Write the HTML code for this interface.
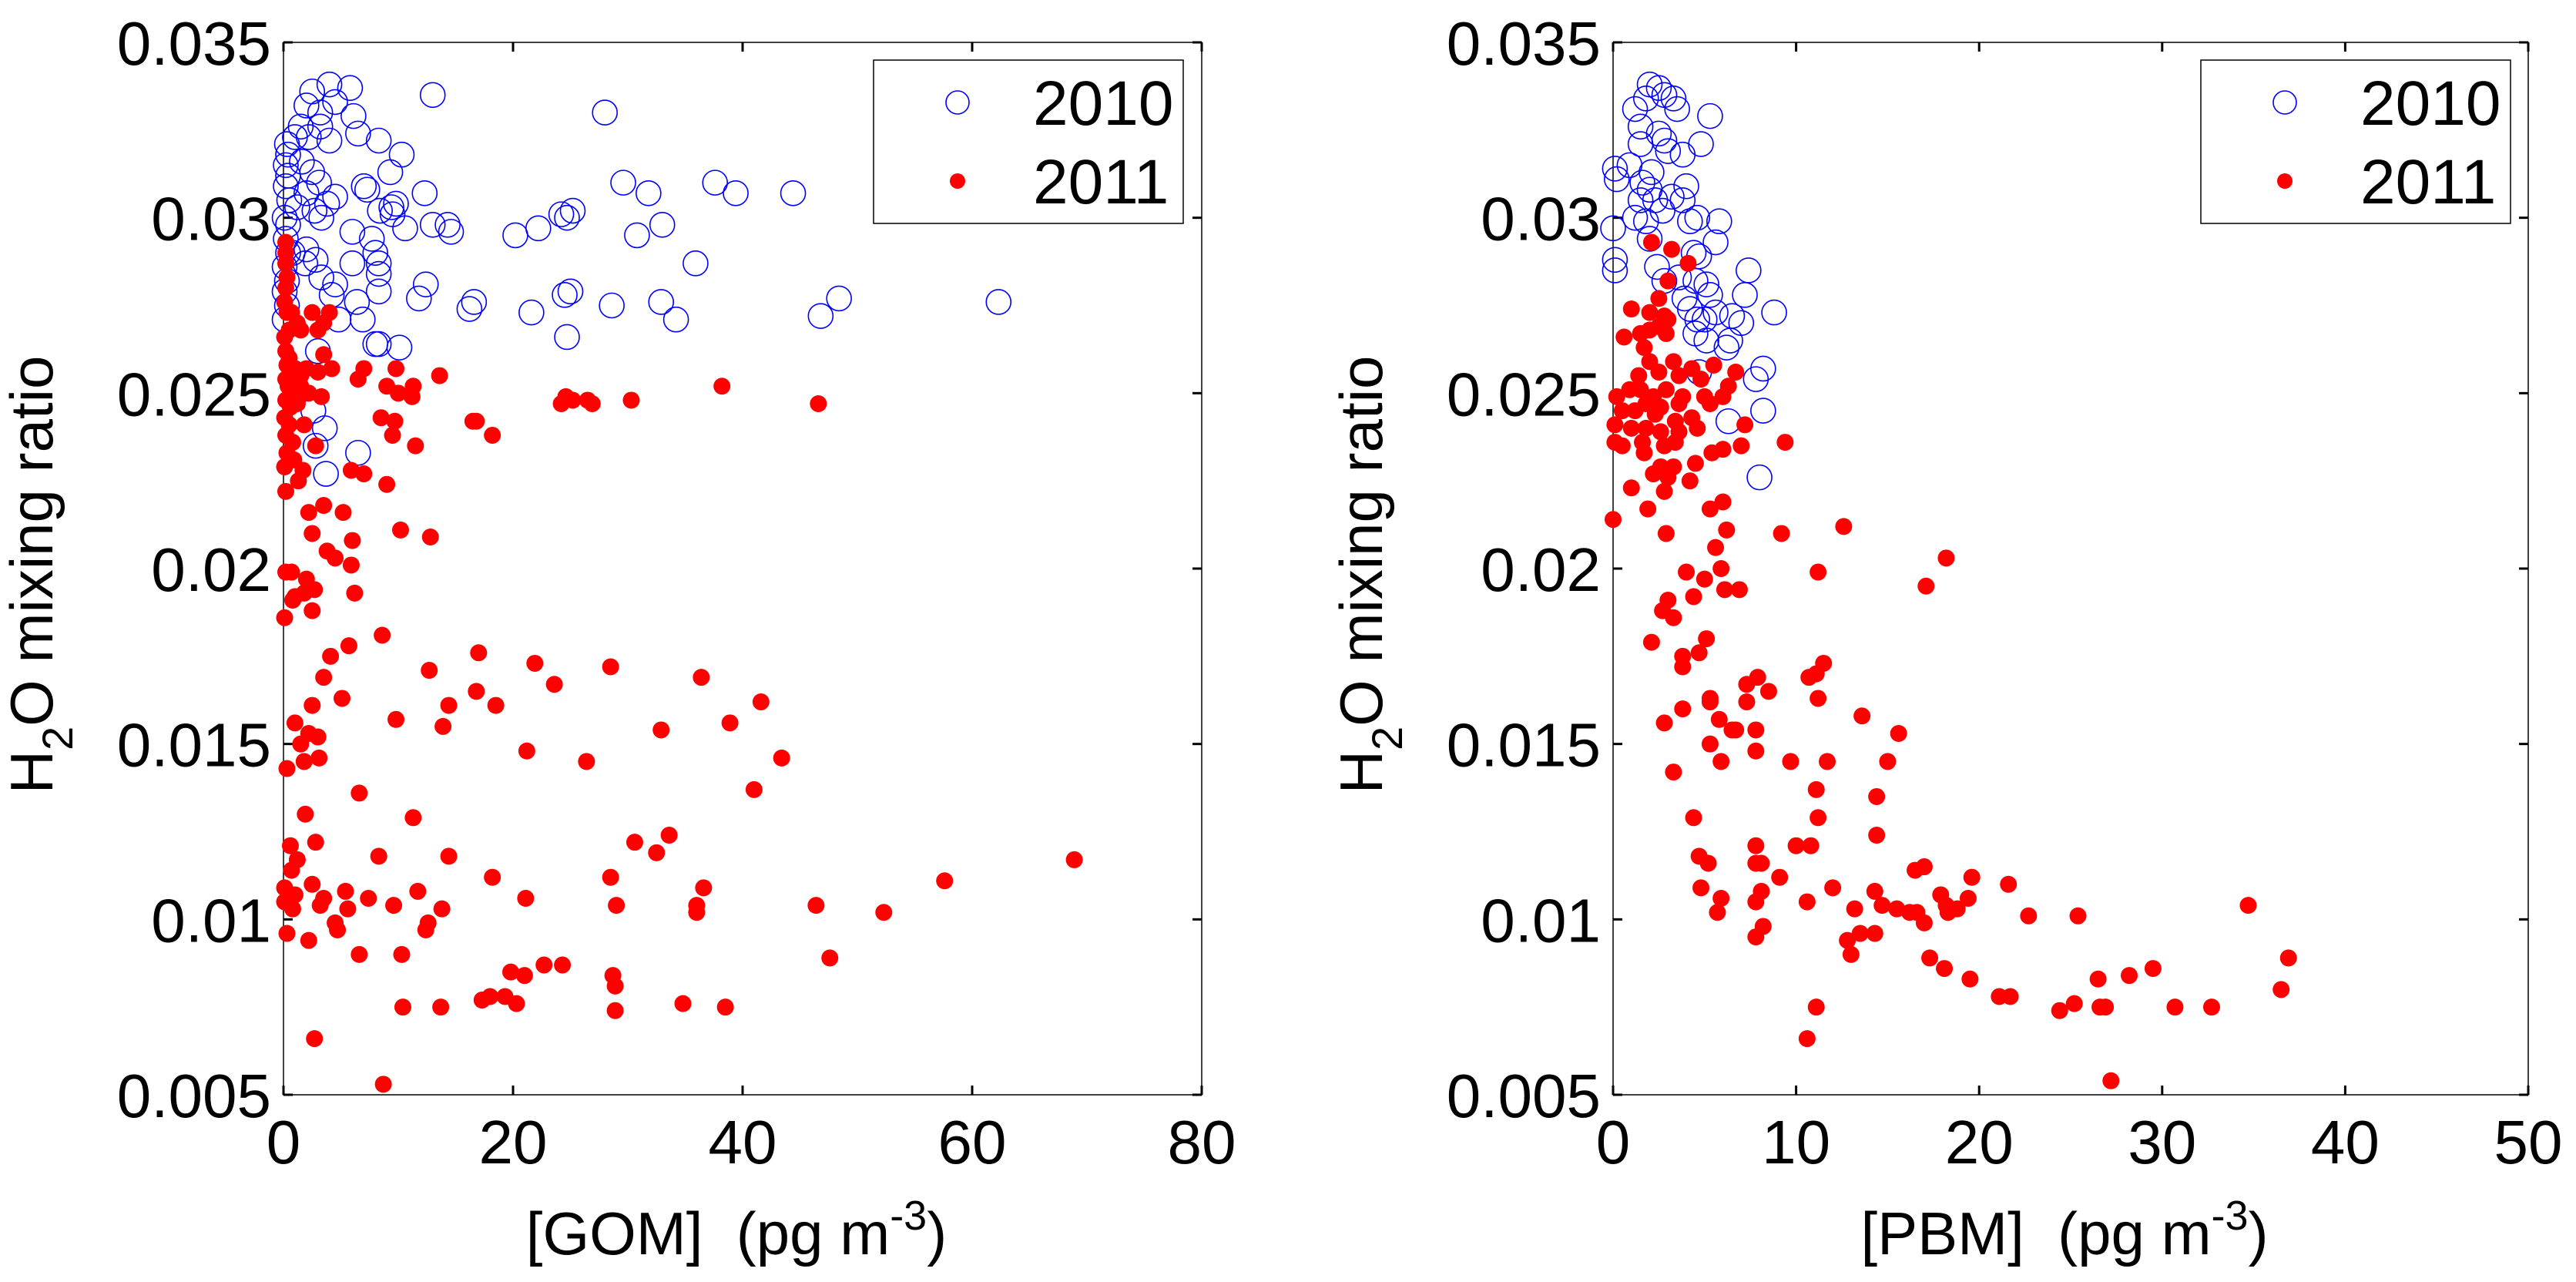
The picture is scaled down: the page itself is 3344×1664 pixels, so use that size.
<!DOCTYPE html>
<html><head><meta charset="utf-8"><style>
html,body{margin:0;padding:0;background:#fff;}
svg{display:block;font-family:"Liberation Sans",Arial,sans-serif;}
</style></head><body>
<svg id="fig" width="3344" height="1664" viewBox="0 0 3344 1664" xmlns="http://www.w3.org/2000/svg"></svg>
<script>
const yTicks=[0.005,0.01,0.015,0.02,0.025,0.03,0.035];
const yTickLabels=["0.005","0.01","0.015","0.02","0.025","0.03","0.035"];
const gomTicks=[0,20,40,60,80];
const pbmTicks=[0,10,20,30,40,50];
const legendLabels=["2010","2011"];
const gom2010=[[0.3,0.0321],[0.4,0.0318],[0.2,0.0315],[0.4,0.0312],[0.2,0.0309],[0.5,0.0305],[0.1,0.03],[0.4,0.0298],[0.2,0.0294],[0.4,0.029],[0.1,0.0286],[0.3,0.0282],[0.1,0.0279],[0.3,0.0275],[0.1,0.0271],[1.0,0.0323],[1.5,0.0326],[2,0.0332],[2.5,0.0336],[3.2,0.033],[4,0.0338],[4.5,0.0333],[5.8,0.0337],[6.1,0.0329],[6.5,0.0324],[8.3,0.0322],[9.4,0.0303],[10.3,0.0318],[4,0.0322],[3.2,0.0326],[2.2,0.0323],[1.6,0.0316],[2.5,0.0313],[3.1,0.031],[2,0.0307],[1.2,0.0303],[2.7,0.0302],[3.3,0.03],[3.8,0.0304],[4.5,0.0306],[6,0.0296],[7,0.0309],[7.3,0.0308],[8.4,0.0302],[9.3,0.0313],[9.8,0.0304],[9.5,0.0301],[12.3,0.0307],[13,0.0335],[28,0.033],[13,0.0298],[14.3,0.0298],[14.6,0.0296],[10.6,0.0297],[7.7,0.0294],[8,0.029],[8.3,0.0287],[8.3,0.0284],[6,0.0287],[1.9,0.0287],[2.8,0.0288],[3.3,0.0283],[2,0.0291],[0.8,0.029],[4.2,0.0278],[4.5,0.0281],[6.4,0.0276],[6.9,0.0271],[8.3,0.0279],[12.4,0.0281],[11.8,0.0277],[16.2,0.0274],[16.6,0.0276],[20.2,0.0295],[22.2,0.0297],[24.2,0.0301],[24.7,0.03],[25.2,0.0302],[29.6,0.031],[31.8,0.0307],[30.8,0.0295],[33,0.0298],[37.6,0.031],[39.4,0.0307],[44.4,0.0307],[35.9,0.0287],[21.6,0.0273],[24.5,0.0278],[25,0.0279],[24.7,0.0266],[28.6,0.0275],[32.9,0.0276],[34.2,0.0271],[46.8,0.0272],[48.4,0.0277],[62.3,0.0276],[8,0.0264],[8.3,0.0264],[10.1,0.0263],[3,0.0262],[2.6,0.0245],[3.6,0.024],[2.8,0.0235],[3.7,0.0227],[6.5,0.0233],[4.8,0.0271]];
const gom2011=[[0.2,0.0293],[0.2,0.029],[0.2,0.0287],[0.3,0.0283],[0.2,0.028],[0.1,0.0276],[0.3,0.0273],[0.7,0.0273],[1.2,0.027],[0.5,0.0268],[0.1,0.0266],[1.5,0.0268],[2.5,0.0273],[3,0.0268],[4,0.0273],[3.5,0.027],[0.2,0.0262],[0.5,0.026],[0.3,0.0258],[1,0.0257],[1.5,0.0255],[2,0.0257],[3,0.0256],[3.5,0.0261],[4.2,0.0257],[0.2,0.0254],[0.4,0.0252],[0.8,0.025],[1.5,0.0252],[2.2,0.025],[3.3,0.0249],[0.2,0.0248],[0.6,0.0246],[1.2,0.0247],[0.1,0.0243],[0.5,0.0241],[1.8,0.0241],[0.2,0.0238],[0.8,0.0236],[2.8,0.0235],[0.3,0.0233],[0.9,0.0231],[0.1,0.0229],[1.7,0.0228],[0.2,0.0222],[1.3,0.0225],[6.5,0.0254],[7,0.0257],[8.5,0.0243],[9,0.0252],[9.5,0.0238],[9.7,0.0242],[9.8,0.0257],[10,0.025],[11.3,0.0252],[11.2,0.0249],[11.5,0.0235],[13.6,0.0255],[16.5,0.0242],[16.8,0.0242],[18.2,0.0238],[24.2,0.0247],[24.6,0.0249],[25.2,0.0248],[26.5,0.0248],[26.9,0.0247],[30.3,0.0248],[38.2,0.0252],[46.6,0.0247],[5.9,0.0228],[7.0,0.0227],[9.0,0.0224],[2.2,0.0216],[3.5,0.0218],[5.2,0.0216],[2.5,0.021],[10.2,0.0211],[12.8,0.0209],[3.8,0.0205],[4.5,0.0203],[6.0,0.0208],[5.9,0.0201],[0.2,0.0199],[0.7,0.0199],[2,0.0197],[2.7,0.0194],[1.8,0.0193],[0.8,0.0191],[1.0,0.0192],[6.2,0.0193],[2.5,0.0188],[0.1,0.0186],[8.6,0.0181],[5.7,0.0178],[4.1,0.0175],[17,0.0176],[21.9,0.0173],[12.7,0.0171],[28.5,0.0172],[3.5,0.0169],[23.6,0.0167],[36.4,0.0169],[16.8,0.0165],[5.1,0.0163],[2.5,0.0161],[14.4,0.0161],[18.5,0.0161],[41.6,0.0162],[1.0,0.0156],[38.9,0.0156],[9.8,0.0157],[2.2,0.0153],[3.0,0.0152],[13.9,0.0155],[32.9,0.0154],[1.5,0.015],[21.2,0.0148],[3.1,0.0146],[1.8,0.0145],[26.4,0.0145],[43.4,0.0146],[0.3,0.0143],[6.6,0.0136],[41,0.0137],[1.9,0.013],[11.3,0.0129],[0.6,0.0121],[2.8,0.0122],[30.6,0.0122],[33.6,0.0124],[1.2,0.0117],[8.3,0.0118],[14.4,0.0118],[32.5,0.0119],[0.7,0.0114],[18.2,0.0112],[28.5,0.0112],[57.6,0.0111],[68.9,0.0117],[2.5,0.011],[0.1,0.0109],[36.6,0.0109],[1.0,0.0107],[3.5,0.0106],[5.4,0.0108],[7.4,0.0106],[11.7,0.0108],[21.1,0.0106],[0.1,0.0105],[0.8,0.0103],[3.2,0.0104],[5.6,0.0103],[9.6,0.0104],[13.8,0.0103],[29,0.0104],[36,0.0104],[36,0.0102],[46.4,0.0104],[52.3,0.0102],[4.5,0.0099],[4.7,0.0097],[12.6,0.0099],[12.4,0.0097],[0.3,0.0096],[2.2,0.0094],[6.6,0.009],[10.3,0.009],[47.6,0.0089],[19.8,0.0085],[22.7,0.0087],[24.3,0.0087],[21.0,0.0084],[28.7,0.0084],[28.9,0.0081],[10.4,0.0075],[13.7,0.0075],[17.3,0.0077],[18,0.0078],[19.3,0.0078],[20.3,0.0076],[28.9,0.0074],[34.8,0.0076],[38.5,0.0075],[2.7,0.0066],[8.7,0.0053]];
const pbm2010=[[0.1,0.0314],[0.2,0.0311],[0,0.0297],[0.1,0.0288],[0.1,0.0285],[0.9,0.0315],[1.2,0.0331],[1.5,0.0321],[1.5,0.0326],[1.8,0.0334],[2,0.0338],[2.5,0.0337],[2.8,0.0335],[3.3,0.0334],[3.5,0.0331],[5.3,0.0329],[4.8,0.0321],[2.8,0.0322],[2.5,0.0324],[3,0.0319],[3.8,0.0318],[1.6,0.031],[2.1,0.0313],[2,0.0308],[1.5,0.0305],[2.3,0.0305],[1.2,0.03],[1.8,0.0299],[2.7,0.0302],[3.2,0.0306],[3.8,0.0305],[4,0.0309],[4.2,0.0299],[4.6,0.03],[5.8,0.0299],[5.6,0.0293],[4.4,0.029],[4.7,0.0289],[2,0.0294],[2.4,0.0286],[2.8,0.0282],[3.6,0.0283],[4.5,0.0282],[5.1,0.0281],[5.3,0.0278],[3.9,0.0277],[4.2,0.0274],[4.6,0.0271],[5,0.0271],[5.6,0.0273],[6.5,0.0272],[7,0.027],[7.2,0.0278],[7.4,0.0285],[8.8,0.0273],[6.4,0.0265],[6.2,0.0263],[5.1,0.0265],[4.5,0.0267],[8.2,0.0257],[7.8,0.0254],[8.2,0.0245],[6.3,0.0242],[8,0.0226],[4.7,0.0256]];
const pbm2011=[[2.1,0.0293],[3.2,0.0291],[4.1,0.0287],[3.0,0.0282],[2.5,0.0277],[1.0,0.0274],[2.0,0.0273],[2.8,0.0272],[3.0,0.0271],[2.5,0.0269],[1.5,0.0267],[2,0.0268],[2.9,0.0267],[0.6,0.0266],[1.7,0.0263],[2,0.0259],[3.3,0.0259],[4.3,0.0257],[5.5,0.0258],[6.7,0.0256],[1.4,0.0255],[2.5,0.0256],[3.6,0.0255],[4.8,0.0254],[6.3,0.0252],[0.9,0.0251],[1.5,0.0251],[2.2,0.0249],[2.9,0.0251],[3.8,0.0249],[5,0.0249],[6,0.0249],[0.2,0.0249],[1.8,0.0247],[2.6,0.0246],[3.6,0.0247],[5.3,0.0247],[0.5,0.0245],[1.2,0.0245],[2.3,0.0244],[3.4,0.0242],[4.3,0.0243],[0.1,0.0241],[1,0.024],[1.8,0.024],[2.6,0.0239],[3.6,0.0239],[4.6,0.024],[7.2,0.0241],[0.1,0.0236],[0.5,0.0235],[1.6,0.0236],[2.8,0.0235],[3.4,0.0236],[5.4,0.0233],[6,0.0234],[7,0.0235],[9.4,0.0236],[1.7,0.0233],[2.6,0.0229],[3.3,0.0229],[4.5,0.023],[2.2,0.0227],[3,0.0226],[4.2,0.0225],[1,0.0223],[2.8,0.0222],[5.3,0.0217],[6,0.0219],[1.9,0.0217],[0,0.0214],[2.9,0.021],[6.2,0.0211],[9.2,0.021],[12.6,0.0212],[5.6,0.0206],[18.2,0.0203],[5.9,0.02],[4,0.0199],[11.2,0.0199],[5,0.0197],[6.1,0.0194],[6.9,0.0194],[17.1,0.0195],[4.4,0.0192],[3,0.0191],[2.7,0.0188],[3.3,0.0186],[5.1,0.018],[2.1,0.0179],[4.7,0.0176],[3.8,0.0175],[3.8,0.0172],[11.5,0.0173],[11.1,0.017],[10.7,0.0169],[7.9,0.0169],[7.3,0.0167],[8.5,0.0165],[5.3,0.0163],[11.2,0.0163],[5.3,0.0162],[7.3,0.0162],[2.8,0.0156],[3.8,0.016],[5.8,0.0157],[6.5,0.0154],[6.7,0.0154],[7.8,0.0154],[13.6,0.0158],[15.6,0.0153],[5.3,0.015],[7.8,0.0148],[5.9,0.0145],[9.7,0.0145],[11.7,0.0145],[15,0.0145],[3.3,0.0142],[11.1,0.0137],[14.4,0.0135],[4.4,0.0129],[11.2,0.0129],[14.4,0.0124],[7.8,0.0121],[10,0.0121],[10.8,0.0121],[4.7,0.0118],[7.8,0.0116],[8.1,0.0116],[5.2,0.0116],[16.5,0.0114],[17,0.0115],[19.6,0.0112],[9.1,0.0112],[21.6,0.011],[4.8,0.0109],[8.1,0.0108],[12,0.0109],[14.3,0.0108],[17.9,0.0107],[5.9,0.0106],[7.8,0.0105],[10.6,0.0105],[14.7,0.0104],[19.4,0.0106],[18.2,0.0104],[5.7,0.0102],[13.2,0.0103],[15.5,0.0103],[16.2,0.0102],[16.6,0.0102],[18.3,0.0102],[18.8,0.0103],[22.7,0.0101],[25.4,0.0101],[34.7,0.0104],[8.2,0.0098],[7.8,0.0095],[12.8,0.0094],[13.5,0.0096],[14.3,0.0096],[17,0.0099],[13,0.009],[17.3,0.0089],[18.1,0.0086],[19.5,0.0083],[26.5,0.0083],[28.2,0.0084],[29.5,0.0086],[36.9,0.0089],[36.5,0.008],[21.1,0.0078],[21.7,0.0078],[24.4,0.0074],[25.2,0.0076],[26.6,0.0075],[26.9,0.0075],[30.7,0.0075],[32.7,0.0075],[11.1,0.0075],[10.6,0.0066],[27.2,0.0054]];

const NS="http://www.w3.org/2000/svg";
const svg=document.getElementById('fig');
function mk(tag,attrs,parent){const e=document.createElementNS(NS,tag);for(const k in attrs)e.setAttribute(k,attrs[k]);(parent||svg).appendChild(e);return e;}

function panel(cfg){
  const g=mk('g',{});
  
  
  const L=cfg.x0,R=cfg.x1,T=55,B=1421;
  const sx=v=>L+(v-cfg.xmin)/(cfg.xmax-cfg.xmin)*(R-L);
  const sy=v=>B-(v-0.005)/(0.035-0.005)*(B-T);
  const box=mk('rect',{x:L,y:T,width:R-L,height:B-T,fill:'none',stroke:'#000','stroke-width':1.5},g);
  
  
  const tl=12;
  cfg.xticks.forEach(t=>{
    const x=sx(t);
    mk('line',{x1:x,y1:B,x2:x,y2:B-tl,stroke:'#000','stroke-width':3},g);
    mk('line',{x1:x,y1:T,x2:x,y2:T+tl,stroke:'#000','stroke-width':3},g);
    const tx=mk('text',{x:x,y:1510,'font-size':80,'text-anchor':'middle',fill:'#000'},g);
    tx.textContent=String(t);
    
    
  });
  yTicks.forEach((t,i)=>{
    const y=sy(t);
    mk('line',{x1:L,y1:y,x2:L+tl,y2:y,stroke:'#000','stroke-width':3},g);
    mk('line',{x1:R,y1:y,x2:R-tl,y2:y,stroke:'#000','stroke-width':3},g);
    const ty=mk('text',{x:L-16,y:y+29,'font-size':80,'text-anchor':'end',fill:'#000'},g);
    ty.textContent=yTickLabels[i];
    
    
  });
  // x title
  const xt=mk('text',{x:(L+R)/2-8,y:1628,'font-size':78,'text-anchor':'middle',fill:'#000'},g);
  
  
  xt.appendChild(document.createTextNode(cfg.xtitle+'\u00a0\u00a0(pg m'));
  const sup=mk('tspan',{dy:-32,'font-size':54},xt);sup.textContent='-3';
  const cl=mk('tspan',{dy:32},xt);cl.textContent=')';
  // y title
  const yt=mk('text',{x:0,y:0,'font-size':78,'text-anchor':'middle',fill:'#000',transform:`translate(${cfg.ytx},746) rotate(-90)`},g);
  
  
  yt.appendChild(document.createTextNode('H'));
  const sub=mk('tspan',{dy:26,'font-size':56},yt);sub.textContent='2';
  const rest=mk('tspan',{dy:-26},yt);rest.textContent='O mixing ratio';
  // series
  const s1=mk('g',{},g);
  
  
  cfg.d2010.forEach(p=>{
    const c=mk('circle',{cx:sx(p[0]),cy:sy(p[1]),r:16,fill:'none',stroke:'#0000ff','stroke-width':1.6},s1);
    
    
  });
  const s2=mk('g',{},g);
  
  
  cfg.d2011.forEach(p=>{
    const c=mk('circle',{cx:sx(p[0]),cy:sy(p[1]),r:11,fill:'#ff0000',stroke:'none'},s2);
    
    
  });
  // legend
  const lg=mk('g',{},g);
  
  
  mk('rect',{x:cfg.lx,y:78,width:402,height:212,fill:'#fff',stroke:'#000','stroke-width':1.5},lg);
  const m1=mk('circle',{cx:cfg.lx+109,cy:133,r:15,fill:'none',stroke:'#0000ff','stroke-width':1.6},lg);
  
  
  const m2=mk('circle',{cx:cfg.lx+109,cy:235,r:10,fill:'#ff0000'},lg);
  
  
  [133,235].forEach((yy,i)=>{
    const t=mk('text',{x:cfg.lx+207,y:yy+29,'font-size':82,fill:'#000'},lg);
    t.textContent=legendLabels[i];
    
    
  });
}
panel({name:'gom-scatter',x0:368,x1:1560,xmin:0,xmax:80,xticks:gomTicks,xtitle:'[GOM]',ytx:68,d2010:gom2010,d2011:gom2011,lx:1134});
panel({name:'pbm-scatter',x0:2094,x1:3282,xmin:0,xmax:50,xticks:pbmTicks,xtitle:'[PBM]',ytx:1794,d2010:pbm2010,d2011:pbm2011,lx:2857});
</script>
</body></html>
